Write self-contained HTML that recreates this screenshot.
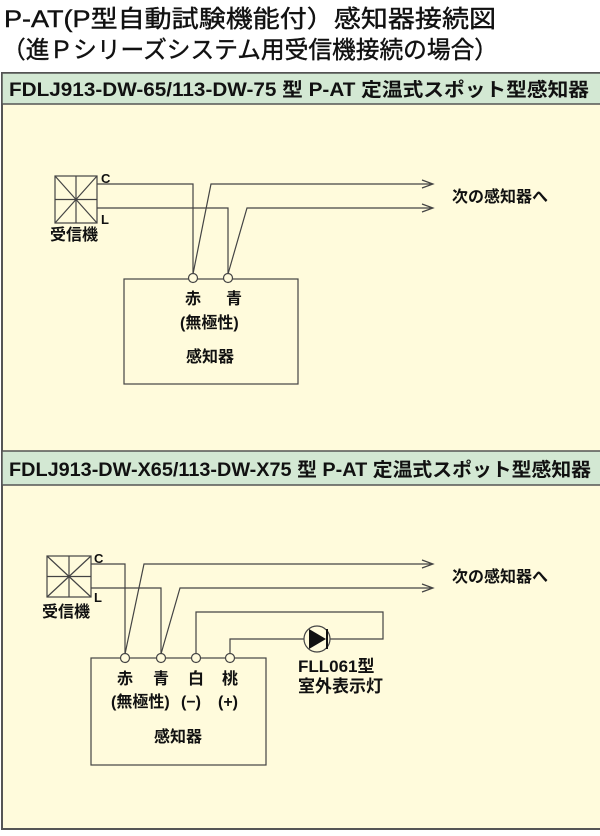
<!DOCTYPE html>
<html><head><meta charset="utf-8"><style>
body{margin:0;width:600px;height:831px;background:#fff;overflow:hidden;font-family:"Liberation Sans","Noto Sans CJK JP",sans-serif;}
</style></head><body>
<svg width="600" height="831" viewBox="0 0 600 831" xmlns="http://www.w3.org/2000/svg" font-family="Liberation Sans, Noto Sans CJK JP, sans-serif">
<text x="4" y="27" font-size="24" fill="#111" stroke="#111" stroke-width="0.4" textLength="492" lengthAdjust="spacingAndGlyphs">P-AT(P型自動試験機能付）感知器接続図</text>
<text x="2" y="58" font-size="24" fill="#111" stroke="#111" stroke-width="0.4" textLength="496" lengthAdjust="spacingAndGlyphs">（進Ｐシリーズシステム用受信機接続の場合）</text>
<rect x="2" y="73" width="600" height="756" fill="#fffbdc" stroke="#555" stroke-width="2"/>
<rect x="2" y="73" width="600" height="31" fill="#d3e8d3" stroke="#555" stroke-width="1.5"/>
<text x="9" y="96" font-size="19" font-weight="bold" fill="#111" textLength="580" lengthAdjust="spacingAndGlyphs">FDLJ913-DW-65/113-DW-75 型 P-AT 定温式スポット型感知器</text>
<rect x="2" y="451" width="600" height="34" fill="#d3e8d3" stroke="#555" stroke-width="1.5"/>
<text x="9" y="476" font-size="19" font-weight="bold" fill="#111" textLength="582" lengthAdjust="spacingAndGlyphs">FDLJ913-DW-X65/113-DW-X75 型 P-AT 定温式スポット型感知器</text>
<g stroke="#444" stroke-width="1.2" fill="none">
<rect x="55" y="176" width="42" height="47"/>
<line x1="55" y1="176" x2="97" y2="223"/><line x1="97" y1="176" x2="55" y2="223"/>
<line x1="76" y1="176" x2="76" y2="223"/><line x1="55" y1="199.5" x2="97" y2="199.5"/>
<polyline points="97,184 193,184 193,274"/>
<polyline points="97,208 228,208 228,274"/>
<polyline points="193,274 211,184 432,184"/>
<polyline points="228,274 247,208 432,208"/>
<polyline points="422,180 433,184 422,188"/><polyline points="422,204 433,208 422,212"/>
<rect x="124" y="279" width="174" height="105"/>
<circle cx="193" cy="278" r="4.5" fill="#fffbdc"/><circle cx="228" cy="278" r="4.5" fill="#fffbdc"/>
<rect x="47" y="556" width="44" height="41"/>
<line x1="47" y1="556" x2="91" y2="597"/><line x1="91" y1="556" x2="47" y2="597"/>
<line x1="69" y1="556" x2="69" y2="597"/><line x1="47" y1="576.5" x2="91" y2="576.5"/>
<polyline points="91,564 125,564 125,654"/>
<polyline points="91,588 161,588 161,654"/>
<polyline points="125,654 144,564 432,564"/>
<polyline points="161,654 180,588 432,588"/>
<polyline points="422,560 433,564 422,568"/><polyline points="422,584 433,588 422,592"/>
<polyline points="196,654 196,612 383,612 383,639 330,639"/>
<polyline points="230,654 230,639 304,639"/>
<circle cx="317" cy="639" r="13"/>
<rect x="91" y="658" width="175" height="107"/>
<circle cx="125" cy="658" r="4.5" fill="#fffbdc"/><circle cx="161" cy="658" r="4.5" fill="#fffbdc"/>
<circle cx="196" cy="658" r="4.5" fill="#fffbdc"/><circle cx="230" cy="658" r="4.5" fill="#fffbdc"/>
</g>
<polygon points="309,629 326,639 309,649" fill="#111"/>
<line x1="327" y1="629" x2="327" y2="649" stroke="#111" stroke-width="2"/>
<g fill="#111" font-size="16" font-weight="bold">
<text x="101" y="183" font-size="13">C</text><text x="101" y="224" font-size="13">L</text>
<text x="50" y="240">受信機</text>
<text x="452" y="202">次の感知器へ</text>
<text x="185" y="304">赤</text><text x="226" y="304">青</text>
<text x="180" y="328">(無極性)</text>
<text x="186" y="362">感知器</text>
<text x="94" y="563" font-size="13">C</text><text x="94" y="602" font-size="13">L</text>
<text x="42" y="617">受信機</text>
<text x="452" y="582">次の感知器へ</text>
<text x="117" y="684">赤</text><text x="153" y="684">青</text><text x="188" y="684">白</text><text x="222" y="684">桃</text>
<text x="111" y="707">(無極性)</text><text x="181" y="707">(−)</text><text x="218" y="707">(+)</text>
<text x="154" y="742">感知器</text>
<text x="298" y="672" font-size="17">FLL061型</text>
<text x="298" y="692" font-size="17">室外表示灯</text>
</g>
</svg>
</body></html>
